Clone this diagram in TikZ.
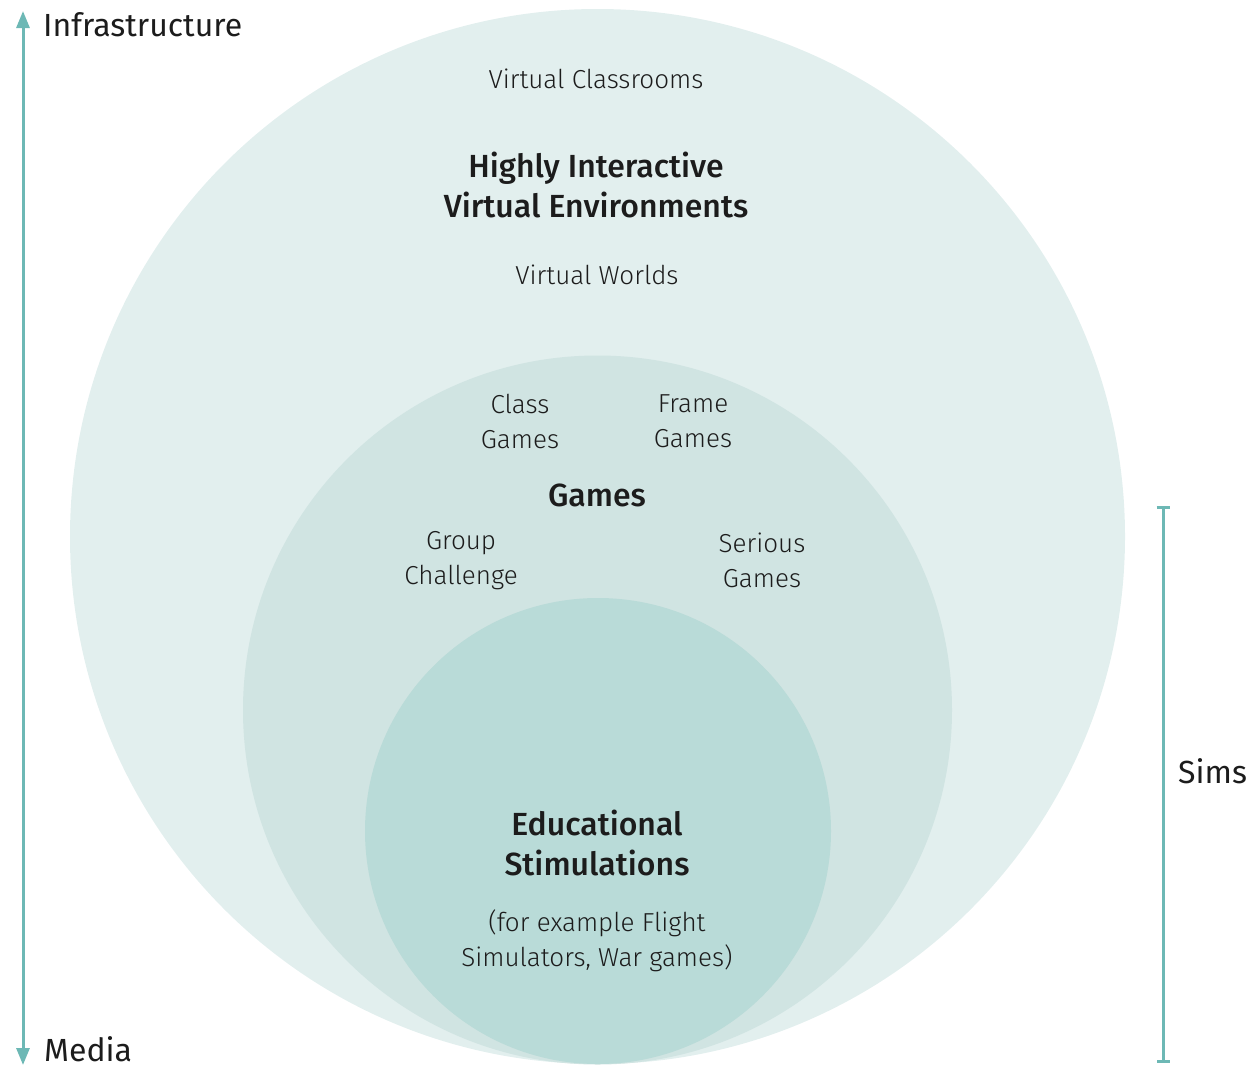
\documentclass[tikz,border=0pt]{standalone}
\usepackage{fontspec}
\setmainfont{Fira Sans}
\newfontfamily\lightfont{Fira Sans Light}
\newfontfamily\mediumfont{Fira Sans Medium}
\usetikzlibrary{arrows.meta}
\definecolor{outerfill}{HTML}{E2EFEE}
\definecolor{midfill}{HTML}{D0E4E2}
\definecolor{innerfill}{HTML}{B9DBD8}
\definecolor{axisteal}{HTML}{6DB8B5}
\definecolor{inktext}{HTML}{1C1C1C}
\tikzset{
  small/.style={font=\lightfont\fontsize{26}{35}\selectfont,text=inktext,align=center,inner sep=0},
  title/.style={font=\mediumfont\fontsize{32}{40}\selectfont,text=inktext,align=center,inner sep=0},
  side/.style={font=\fontsize{32}{38}\selectfont,text=inktext,anchor=west,inner sep=0},
}
\begin{document}
\begin{tikzpicture}[x=1pt,y=-1pt]
\useasboundingbox (0,0) rectangle (1258,1066);
% nested circles
\fill[outerfill] (597.5,536.5) circle[radius=527.5pt];
\fill[midfill] (597.5,710) circle[radius=354.5pt];
\fill[innerfill] (598,831) circle[radius=233pt];
% media axis on the left
\coordinate (infra) at (23,11);
\coordinate (media) at (23,1065);
\draw[axisteal,line width=3pt,{Triangle[length=17pt,width=13pt]}-{Triangle[length=17pt,width=13pt]}] (infra) -- (media);
\node[side] (infralabel) at (43,25) {Infrastructure};
\node[side] (medialabel) at (44,1049) {Media};
% sims bracket on the right
\coordinate (simstop) at (1163,506);
\coordinate (simsbot) at (1163,1063);
\draw[axisteal,line width=3pt,{Bar[width=13pt]}-{Bar[width=13pt]}] (simstop) -- (simsbot);
\node[side] (sims) at (1178,771) {Sims};
% outer ring
\node[small] (classrooms) at (596,79) {Virtual Classrooms};
\node[title] (hive) at (596,185) {Highly Interactive\\Virtual Environments};
\node[small] (worlds) at (597,275) {Virtual Worlds};
% middle ring
\node[small] (classgames) at (520,421) {Class\\Games};
\node[small] (framegames) at (693,421) {Frame\\Games};
\node[title] (games) at (597,495) {Games};
\node[small] (group) at (461,561) {Group\\Challenge};
\node[small] (serious) at (762,560) {Serious\\Games};
% inner circle
\node[title] (edusims) at (597,843) {Educational\\Stimulations};
\node[small] (examples) at (597,941) {(for example Flight\\Simulators, War games)};
\end{tikzpicture}
\end{document}
